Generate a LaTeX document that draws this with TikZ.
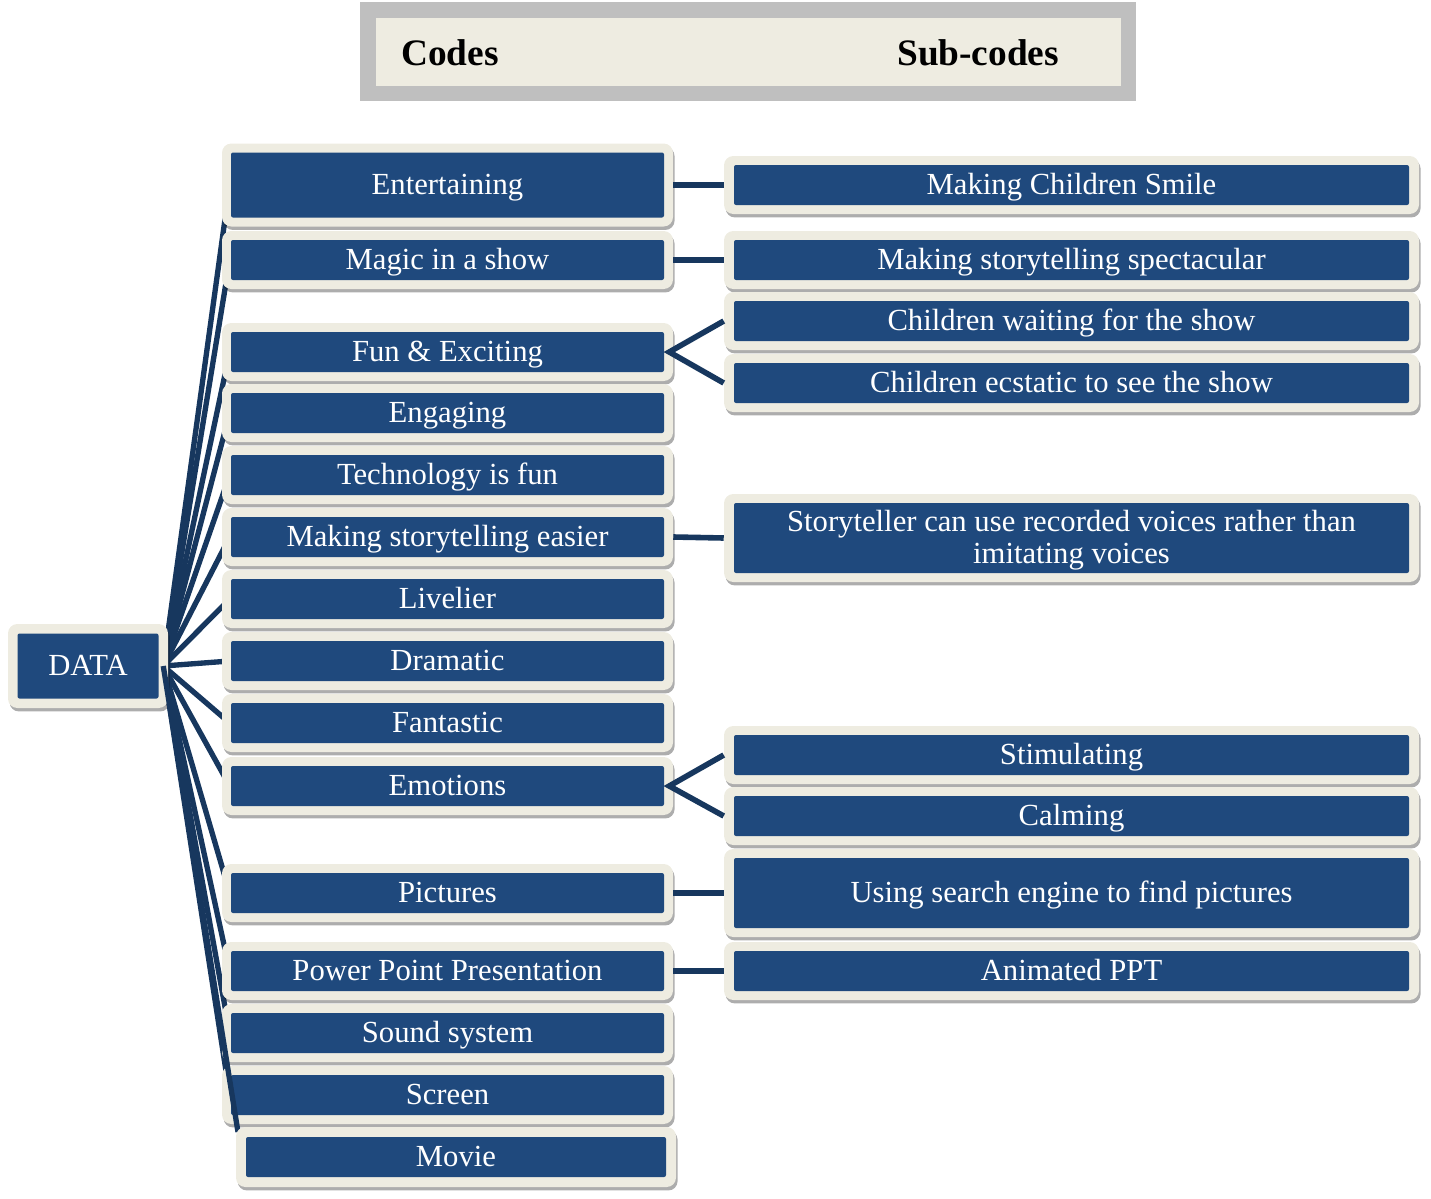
\documentclass[tikz,border=0pt]{standalone}
\usepackage{fontspec}
\setmainfont{Liberation Serif}
\usetikzlibrary{shadows,backgrounds,calc}
\definecolor{dblue}{HTML}{1F497D}
\definecolor{lnblue}{HTML}{17375E}
\definecolor{cream}{HTML}{EEECE1}
\definecolor{hgray}{HTML}{BFBFBF}
\tikzset{
  outerbox/.style={fill=cream, rounded corners=7pt, inner sep=0pt,
    drop shadow={shadow xshift=1.2pt, shadow yshift=-2.6pt, opacity=0.32, fill=black}},
  innerbox/.style={fill=dblue, rounded corners=1.5pt, inner sep=0pt},
  boxtext/.style={inner sep=0pt, text=white, font=\fontsize{23}{24}\selectfont, align=center,
    text height=18pt, text depth=3.75pt},
  multitext/.style={inner sep=0pt, text=white, font=\fontsize{23}{24}\selectfont, align=center},
  link/.style={draw=lnblue, line width=4.2pt},
  fanline/.style={draw=lnblue, line width=4pt},
  headtext/.style={font=\fontsize{28}{30}\selectfont\bfseries, text=black, anchor=west, inner sep=0pt},
}
% name, cx, cy, outer w, outer h, inner w, inner h, text  (all in px)
\newcommand\dbox[8]{%
  \node[outerbox, minimum width=(#4)*0.75pt, minimum height=(#5)*0.75pt] (#1) at (#2,#3) {};
  \node[innerbox, minimum width=(#6)*0.75pt, minimum height=(#7)*0.75pt] (#1i) at (#2,#3) {};
  \node[boxtext] (#1t) at (#1i.center) {#8};}
\newcommand\mkcode[4]{\dbox{#1}{447.5}{#2}{451}{#3+18}{433}{#3}{#4}}
\newcommand\mksub[4]{\dbox{#1}{1071.5}{#2}{695}{#3+18}{675}{#3}{#4}}
\begin{document}
\begin{tikzpicture}[x=0.75pt,y=-0.75pt]
\useasboundingbox (0,0) rectangle (1431,1199);
% header
\node[fill=hgray, inner sep=0pt, minimum width=776*0.75pt, minimum height=99*0.75pt] (hdr) at (748,51.5) {};
\node[fill=cream, inner sep=0pt, minimum width=745*0.75pt, minimum height=68*0.75pt] (hdri) at (748.5,52) {};
\node[headtext] (hcodes) at (401,53) {Codes};
\node[headtext] (hsub) at (897,53) {Sub-codes};
% DATA
\dbox{data}{88}{666}{160}{84}{141}{65}{DATA}
% codes
\mkcode{ent}{185}{65}{Entertaining}
\mkcode{mag}{260}{40}{Magic in a show}
\mkcode{fun}{352}{40}{Fun \& Exciting}
\mkcode{eng}{413}{40}{Engaging}
\mkcode{tec}{475}{40}{Technology is fun}
\mkcode{mse}{537}{40}{Making storytelling easier}
\mkcode{liv}{599}{40}{Livelier}
\mkcode{dra}{661}{40}{Dramatic}
\mkcode{fnt}{723}{40}{Fantastic}
\mkcode{emo}{786}{40}{Emotions}
\mkcode{pic}{893}{40}{Pictures}
\mkcode{ppt}{971}{40}{Power Point Presentation}
\mkcode{snd}{1033}{40}{Sound system}
\mkcode{scr}{1095}{40}{Screen}
% sub-codes
\mksub{ssmile}{185}{40}{Making Children Smile}
\mksub{sspect}{260}{40}{Making storytelling spectacular}
\mksub{swait}{321}{40}{Children waiting for the show}
\mksub{secst}{383}{40}{Children ecstatic to see the show}
\mksub{sstory}{538}{70}{}
\node[multitext] (sstoryt2) at ($(sstoryi.center)+(0,2.5)$) {Storyteller can use recorded voices rather than\\imitating voices};
\mksub{sstim}{755}{40}{Stimulating}
\mksub{scalm}{816}{40}{Calming}
\mksub{ssearch}{893}{70}{Using search engine to find pictures}
\mksub{sanim}{971}{40}{Animated PPT}
% fan lines behind the boxes
\begin{scope}[on background layer]
\foreach \n in {ent,mag,fun,eng,tec,mse,liv,dra,fnt,emo,pic,ppt,snd,scr}
  \draw[fanline] ($(data.east)+(-5,0)$) -- ($(\n.west)+(8,0)$);
\end{scope}
% movie line over the Screen box
\draw[fanline] ($(data.east)+(-5,0)$) -- (238,1132) coordinate (mvend);
\dbox{mov}{456}{1157}{440}{60}{420}{40}{Movie}
% code to sub-code links
\draw[link] (ent.east) -- (ssmile.west);
\draw[link] (mag.east) -- (sspect.west);
\draw[link] (mse.east) -- (sstory.west);
\draw[link] (pic.east) -- (ssearch.west);
\draw[link] (ppt.east) -- (sanim.west);
\draw[link, line join=miter] (swait.west) -- ($(fun.east)+(-4,0)$) -- (secst.west);
\draw[link, line join=miter] (sstim.west) -- ($(emo.east)+(-4,0)$) -- (scalm.west);
\end{tikzpicture}
\end{document}
